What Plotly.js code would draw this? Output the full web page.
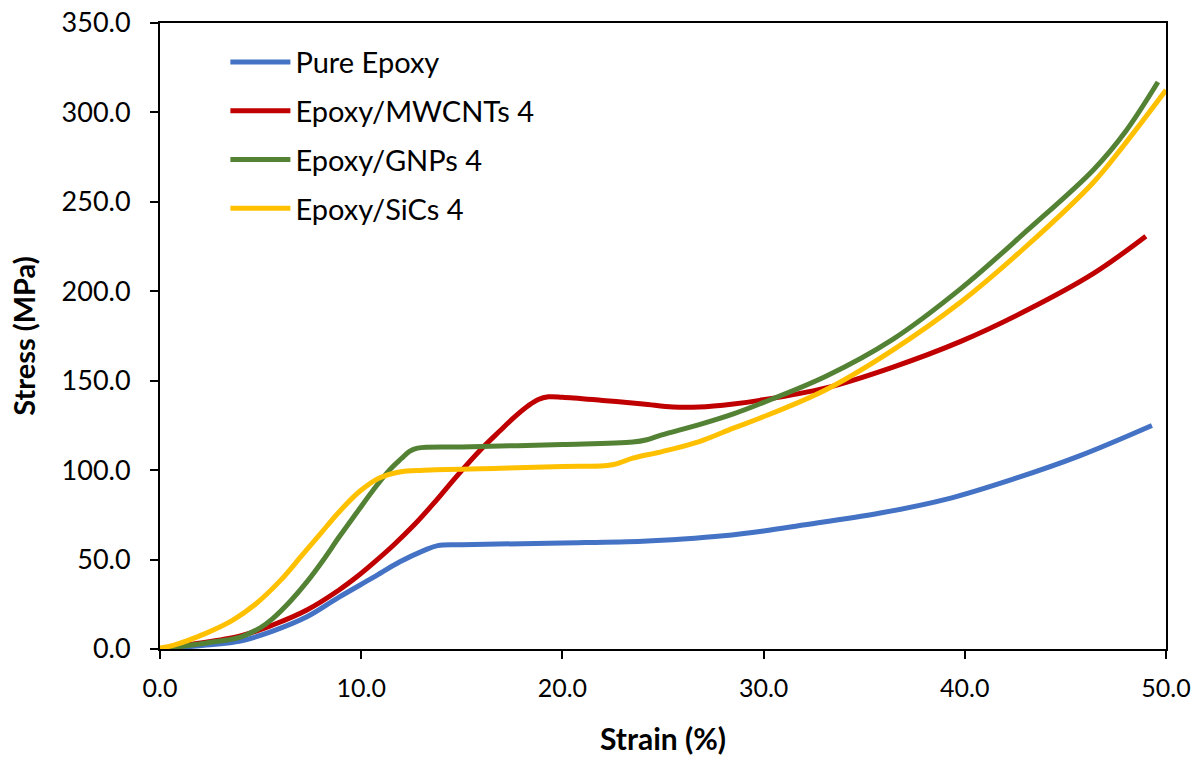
<!DOCTYPE html>
<html>
<head>
<meta charset="utf-8">
<script src="https://cdn.plot.ly/plotly-3.0.1.min.js"></script>
<style>html,body{margin:0;padding:0;background:#fff;}#chart{width:1204px;height:758px;}</style>
</head>
<body>
<div id="chart"></div>
<script>
const seriesNames = ["Pure Epoxy", "Epoxy/MWCNTs 4", "Epoxy/GNPs 4", "Epoxy/SiCs 4"];
const seriesColors = ["#4472C4", "#C00000", "#548235", "#FFC000"];

const pureStrain = [0, 2.3, 4, 5.6, 7.3, 8.9, 10.6, 11.9, 13.1, 13.8, 15, 20, 24, 26, 28, 30, 31.8, 35.8, 39.1, 42.4, 45.7, 49.3];
const pureStress = [0, 2.2, 4.5, 10, 18, 29, 40, 48.6, 55, 57.8, 58.3, 59.3, 60.3, 61.5, 63.3, 66, 69, 76, 83.8, 95, 108, 125];

const mwStrain = [0, 1.5, 4, 5.6, 7.3, 8.9, 9.8, 10.6, 11.6, 12.6, 13.6, 14.7, 15.9, 16.9, 17.6, 18.3, 18.8, 19.3, 20, 22, 24, 25.5, 26.8, 28.5, 29.8, 33.1, 36.4, 39.8, 43.1, 46.4, 49];
const mwStress = [0, 2.5, 7.3, 13.4, 21.8, 33, 40.5, 48, 58, 69, 81.4, 96, 111, 122, 129.5, 136, 139.5, 141, 140.8, 139, 137, 135.3, 135.3, 137, 139, 146, 157.5, 172, 189.5, 210, 230.8];

const gnpStrain = [0, 2.3, 4, 5, 5.6, 6.5, 7.3, 8.1, 8.9, 9.8, 10.6, 11.4, 12, 12.4, 12.8, 15, 20, 23.5, 24.2, 24.9, 26.8, 28.5, 29.8, 33.1, 36.4, 39.8, 43.1, 46.4, 48, 49.6];
const gnpStress = [0, 3.4, 6.7, 12, 17, 27, 37.5, 49.5, 62.6, 76.6, 88.9, 100, 106.5, 110.5, 112.3, 113, 114.3, 115.7, 117, 119.6, 125.5, 131.5, 137, 152.5, 173, 201.5, 234, 268, 289.5, 317];

const sicStrain = [0, 0.7, 2.3, 3.6, 4.8, 6, 7, 8, 8.9, 9.9, 10.9, 11.9, 13.1, 16.9, 20, 22.5, 23.5, 25, 26.8, 28.5, 29.8, 33.1, 36.4, 39.8, 43.1, 46.4, 48, 50];
const sicStress = [0.5, 2.2, 8.9, 16, 25.6, 38.5, 51.6, 64.8, 76.6, 87.9, 95.6, 99, 100, 101, 102, 103, 106.7, 110.5, 116, 123.5, 129, 145, 167, 194, 225.6, 261, 283, 312.5];

const xTickVals = [0, 10, 20, 30, 40, 50];
const yTickVals = [0, 50, 100, 150, 200, 250, 300, 350];

const xs = [pureStrain, mwStrain, gnpStrain, sicStrain];
const ys = [pureStress, mwStress, gnpStress, sicStress];

const traces = seriesNames.map((n, i) => ({
  x: xs[i], y: ys[i], name: n, type: 'scatter', mode: 'lines', legendgroup: 'g' + i,
  line: {color: seriesColors[i], width: 5, shape: 'spline', smoothing: 1.0}
}));

const fontFam = 'Lato, Carlito, Calibri, "Open Sans", sans-serif';

const layout = {
  width: 1204, height: 758,
  margin: {l: 160, r: 38, t: 23, b: 109},
  paper_bgcolor: '#fff', plot_bgcolor: '#fff',
  showlegend: true,
  legend: {x: 0.065, y: 0.978, xanchor: 'left', yanchor: 'top', bgcolor: 'rgba(0,0,0,0)',
           font: {family: fontFam, size: 29, color: '#000'}, tracegroupgap: 8, itemwidth: 60},
  xaxis: {
    range: [0, 50], tickvals: xTickVals, ticktext: xTickVals.map(v => v.toFixed(1)),
    showgrid: false, zeroline: false, showline: true, linecolor: '#000', linewidth: 2, mirror: true,
    ticks: 'outside', ticklen: 8, tickwidth: 2, tickcolor: '#000', ticklabelstandoff: 8,
    tickfont: {family: fontFam, size: 25, color: '#000'},
    title: {text: '<b>Strain (%)</b>', font: {family: fontFam, size: 30, color: '#000'}, standoff: 28}
  },
  yaxis: {
    range: [0, 350], tickvals: yTickVals, ticktext: yTickVals.map(v => v.toFixed(1)),
    showgrid: false, zeroline: false, showline: true, linecolor: '#000', linewidth: 2, mirror: true,
    ticks: 'outside', ticklen: 8, tickwidth: 2, tickcolor: '#000', ticklabelstandoff: 14,
    tickfont: {family: fontFam, size: 27, color: '#000'},
    title: {text: '<b>Stress (MPa)</b>', font: {family: fontFam, size: 29, color: '#000'}, standoff: 17}
  }
};

Plotly.newPlot('chart', traces, layout, {displayModeBar: false, staticPlot: true});
</script>
</body>
</html>
